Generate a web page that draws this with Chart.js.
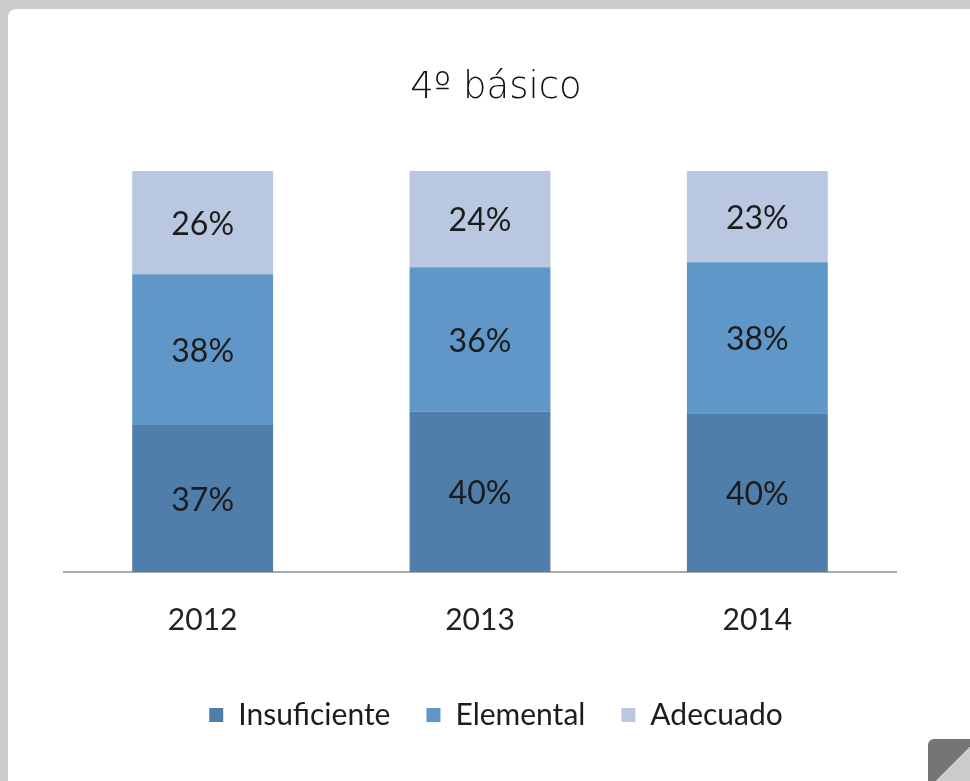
<!DOCTYPE html>
<html>
<head>
<meta charset="utf-8">
<script src="https://cdn.jsdelivr.net/npm/chart.js@4/dist/chart.umd.min.js"></script>
<style>
  html, body { margin: 0; padding: 0; width: 970px; height: 781px; overflow: hidden; background: #cccccc; }
  #card { position: absolute; left: 8px; top: 9px; width: 990px; height: 800px; background: #fff; border-top-left-radius: 8px; }
  #wrap { position: absolute; left: 8px; top: 9px; width: 976px; height: 772px; }
  #grip { position: absolute; left: 928px; top: 739px; width: 50px; height: 50px; border-top-left-radius: 6px;
          background: linear-gradient(to bottom right, #757575 50%, #cccccc 50%); }
</style>
</head>
<body>
<div id="card"></div>
<div id="wrap"><canvas id="chart"></canvas></div>
<div id="grip"></div>
<script>
const titleText = '4º básico'
const years = ['2012', '2013', '2014']
const insuficiente = [37, 40, 40]
const elemental = [38, 36, 38]
const adecuado = [26, 24, 23]

// 100% stacked columns, like the original spreadsheet chart
const totals = years.map((y, i) => insuficiente[i] + elemental[i] + adecuado[i])
const share = (arr) => arr.map((v, i) => v / totals[i] * 100)

// title is centred on the card, not on the plot
const cardTitle = {
  id: 'cardTitle',
  afterDraw(chart) {
    const ctx = chart.ctx
    const lg = chart.legend
    ctx.save()
    ctx.font = '300 37px "DejaVu Sans"'
    ctx.fillStyle = '#111'
    ctx.textAlign = 'center'
    ctx.textBaseline = 'alphabetic'
    ctx.fillText(titleText, (lg.left + lg.right) / 2, 89)
    ctx.restore()
  }
}

const valueLabels = {
  id: 'valueLabels',
  afterDatasetsDraw(chart) {
    const ctx = chart.ctx
    ctx.save()
    ctx.font = '32px Lato'
    ctx.fillStyle = '#1c1c1c'
    ctx.textAlign = 'center'
    ctx.textBaseline = 'middle'
    chart.data.datasets.forEach((ds, d) => {
      const meta = chart.getDatasetMeta(d)
      meta.data.forEach((bar, i) => {
        const mid = (bar.y + bar.base) / 2
        ctx.fillText(ds.raw[i] + '%', bar.x, mid + 2)
      })
    })
    ctx.restore()
  }
}

const ctx = document.getElementById('chart').getContext('2d')

let chart = new Chart(ctx, {
  type: 'bar',
  data: {
    labels: years,
    datasets: [{
      label: 'Insuficiente',
      raw: insuficiente,
      data: share(insuficiente),
      backgroundColor: '#4f7eab'
    }, {
      label: 'Elemental',
      raw: elemental,
      data: share(elemental),
      backgroundColor: '#6097c9'
    }, {
      label: 'Adecuado',
      raw: adecuado,
      data: share(adecuado),
      backgroundColor: '#b9c8e0'
    }]
  },
  options: {
    responsive: true,
    maintainAspectRatio: false,
    animation: false,
    layout: { padding: { left: 56, right: 56, top: 162, bottom: 41 } },
    datasets: { bar: { categoryPercentage: 1, barPercentage: 0.508 } },
    scales: {
      x: {
        stacked: true,
        grid: { display: false, drawTicks: false },
        border: { color: '#aaaaaa', width: 2 },
        ticks: { color: '#222', font: { family: 'Lato', size: 30 }, padding: 30 },
        afterFit(axis) { axis.height -= 4 }
      },
      y: {
        stacked: true,
        position: 'right',
        min: 0,
        max: 100,
        grid: { display: false, drawTicks: false },
        border: { display: false },
        ticks: { display: false },
        afterFit(axis) { axis.width = 32 }
      }
    },
    plugins: {
      title: { display: false },
      legend: {
        position: 'bottom',
        labels: {
          color: '#1c1c1c',
          font: { family: 'Lato', size: 30 },
          boxWidth: 14,
          boxHeight: 14,
          padding: 36
        }
      },
      tooltip: { enabled: false }
    }
  },
  plugins: [valueLabels, cardTitle]
})
</script>
</body>
</html>
